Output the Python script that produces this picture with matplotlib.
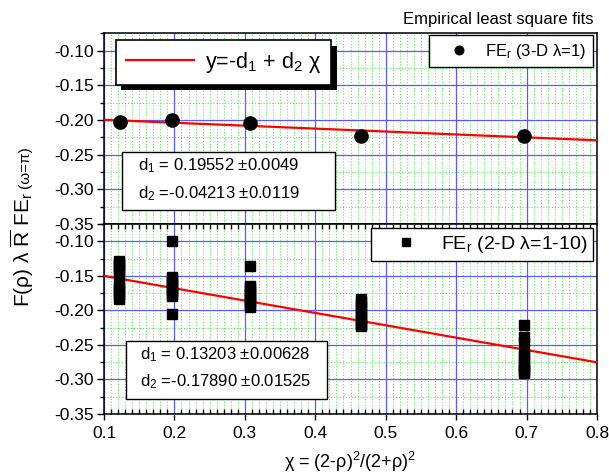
import matplotlib
matplotlib.use('Agg')
import matplotlib.pyplot as plt
import matplotlib.patheffects as pe
from matplotlib.patches import Rectangle
from matplotlib.ticker import MultipleLocator

plt.rcParams['font.family'] = ['Liberation Sans', 'DejaVu Sans']
plt.rcParams['mathtext.fontset'] = 'custom'
plt.rcParams['mathtext.rm'] = 'Liberation Sans'
plt.rcParams['mathtext.it'] = 'Liberation Sans:italic'
plt.rcParams['mathtext.bf'] = 'Liberation Sans:bold'

# 3-D, lambda = 1
chi_3d = [0.122, 0.196, 0.307, 0.465, 0.696]
fe_3d = [-0.203, -0.200, -0.205, -0.223, -0.223]
d1_3d, d2_3d = 0.19552, -0.04213
err1_3d, err2_3d = '0.0049', '0.0119'

# 2-D, lambda = 1..10 (stacked at each chi)
chi_2d = [0.121] * 10 + [0.196] * 10 + [0.307] * 10 + [0.465] * 10 + [0.696] * 10
fe_2d = [-0.129, -0.132, -0.136, -0.141, -0.146, -0.162, -0.167, -0.172, -0.178, -0.184,
         -0.099, -0.152, -0.155, -0.159, -0.164, -0.168, -0.172, -0.176, -0.179, -0.205,
         -0.136, -0.164, -0.168, -0.172, -0.176, -0.180, -0.184, -0.188, -0.192, -0.195,
         -0.184, -0.188, -0.193, -0.198, -0.203, -0.208, -0.213, -0.218, -0.221, -0.223,
         -0.221, -0.238, -0.246, -0.262, -0.268, -0.274, -0.280, -0.285, -0.288, -0.291]
d1_2d, d2_2d = 0.13203, -0.17890
err1_2d, err2_2d = '0.00628', '0.01525'

fit_x = [0.1, 0.8]
xticks = [0.1, 0.2, 0.3, 0.4, 0.5, 0.6, 0.7, 0.8]
yticks = [-0.10, -0.15, -0.20, -0.25, -0.30, -0.35]

fig = plt.figure(figsize=(6.09, 4.74), dpi=100)
ax1 = fig.add_axes([0.1708, 0.527, 0.8095, 0.403])
ax2 = fig.add_axes([0.1708, 0.1266, 0.8095, 0.4004])


def style_axes(ax, bottom_labels):
    ax.set_xlim(0.1, 0.8)
    ax.set_ylim(-0.35, -0.075)
    ax.set_xticks(xticks)
    ax.set_yticks(yticks)
    ax.set_yticklabels(['%.2f' % v for v in yticks])
    ax.xaxis.set_minor_locator(MultipleLocator(0.01))
    ax.yaxis.set_minor_locator(MultipleLocator(0.025))
    ax.grid(which='major', color='#5a5aff', lw=0.9, ls='-')
    ax.grid(which='minor', color='#55ee55', lw=0.8, ls=':')
    ax.set_axisbelow(True)
    for s in ax.spines.values():
        s.set_linewidth(1.1)
    ax.tick_params(axis='y', which='major', direction='out', length=5, width=1, labelsize=12.5, pad=2.5)
    ax.tick_params(axis='y', which='minor', direction='out', length=3, width=1)
    ax.tick_params(axis='y', which='both', right=False)
    if bottom_labels:
        ax.tick_params(axis='x', which='major', direction='out', length=4, width=1,
                       labelsize=12.5, pad=5, top=False)
        ax.tick_params(axis='x', which='minor', direction='in', length=3.5, width=1, top=True)
        ax.set_xticklabels(['%.1f' % v for v in xticks])
    else:
        ax.tick_params(axis='x', which='both', bottom=False, top=False, labelbottom=False)


style_axes(ax1, False)
style_axes(ax2, True)

# top panel
fit_3d = [-d1_3d + d2_3d * x for x in fit_x]
ln, = ax1.plot(fit_x, fit_3d, color='red', lw=1.6, zorder=3, label='y=-d$_1$ + d$_2$ χ')
pts, = ax1.plot(chi_3d, fe_3d, 'o', color='black', ms=9.5, ls='none', zorder=4,
                label='FE$_{\\rm r}$ (3-D λ=1)')

leg1 = ax1.legend(handles=[ln], loc='upper left', bbox_to_anchor=(0.024, 0.963),
                  borderaxespad=0, fontsize=15.5, handlelength=3.2, handletextpad=0.5,
                  borderpad=0.45, fancybox=False, framealpha=1, edgecolor='black')
leg1.get_frame().set_linewidth(1.2)
leg1.get_frame().set_path_effects([pe.SimplePatchShadow(offset=(4, -4), shadow_rgbFace='black', alpha=1),
                                   pe.Normal()])
ax1.add_artist(leg1)
leg2 = ax1.legend(handles=[pts], loc='upper right', bbox_to_anchor=(0.992, 0.99),
                  borderaxespad=0, fontsize=12, handlelength=2.8, handletextpad=0.2,
                  borderpad=0.4, markerscale=0.65, fancybox=False, framealpha=1,
                  edgecolor='black')
leg2.get_frame().set_linewidth(1.0)

ax1.add_patch(Rectangle((0.0365, 0.073), 0.432, 0.304, transform=ax1.transAxes,
                        fc='white', ec='black', lw=1.0, zorder=5))
ax1.text(0.069, 0.309, 'd$_1$ = %.5f ±%s' % (d1_3d, err1_3d), transform=ax1.transAxes,
         fontsize=12, va='center', zorder=6)
ax1.text(0.069, 0.162, 'd$_2$ =%.5f ±%s' % (d2_3d, err2_3d), transform=ax1.transAxes,
         fontsize=12, va='center', zorder=6)

# bottom panel
fit_2d = [-d1_2d + d2_2d * x for x in fit_x]
ax2.plot(fit_x, fit_2d, color='red', lw=1.6, zorder=3)
sq, = ax2.plot(chi_2d, fe_2d, 's', color='black', ms=7.5, ls='none', zorder=4,
               label='FE$_{\\rm r}$ (2-D λ=1-10)')
leg3 = ax2.legend(handles=[sq], loc='upper right', bbox_to_anchor=(0.992, 0.979),
                  borderaxespad=0, fontsize=14, handlelength=3.0, handletextpad=0.3,
                  borderpad=0.3, markerscale=0.85, fancybox=False, framealpha=1,
                  edgecolor='black')
leg3.get_frame().set_linewidth(1.0)

ax2.add_patch(Rectangle((0.0446, 0.079), 0.408, 0.305, transform=ax2.transAxes,
                        fc='white', ec='black', lw=1.0, zorder=5))
ax2.text(0.072, 0.311, 'd$_1$ = %.5f ±%s' % (d1_2d, err1_2d), transform=ax2.transAxes,
         fontsize=12, va='center', zorder=6)
ax2.text(0.072, 0.171, 'd$_2$ =%.5f ±%s' % (d2_2d, err2_2d), transform=ax2.transAxes,
         fontsize=12, va='center', zorder=6)

fig.text(0.974, 0.958, 'Empirical least square fits', ha='right', va='center', fontsize=12)
ax2.set_xlabel('χ = (2-ρ)$^2$/(2+ρ)$^2$', fontsize=13, labelpad=6)
fig.text(0.036, 0.352, 'F(ρ) λ $\\overline{\\rm R}$ FE$_{\\rm r}$', rotation=90,
         ha='center', va='bottom', fontsize=15)
fig.text(0.041, 0.603, '(ω=π)', rotation=90, ha='center', va='bottom', fontsize=11)

fig.savefig('out.png', dpi=100)
